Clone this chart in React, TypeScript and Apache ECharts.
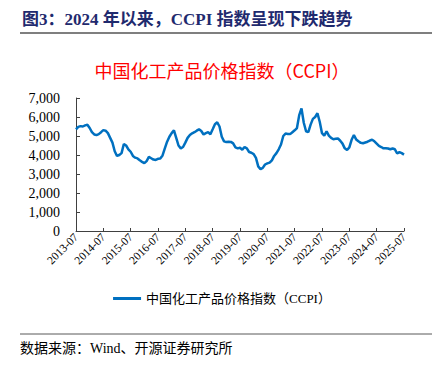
import React, { useEffect, useRef } from "react";
import * as echarts from "echarts";

const startYear = 2013;
const startMonth = 7;
const monthCount = 145;

const categories: string[] = [];
for (let i = 0; i < monthCount; i++) {
  const m = startMonth - 1 + i;
  const y = startYear + Math.floor(m / 12);
  const mm = (m % 12) + 1;
  categories.push(`${y}-${mm < 10 ? "0" + mm : mm}`);
}

const ccpiValues: number[] = [
  5350, 5480, 5520, 5500, 5560, 5590, 5420, 5200, 5080, 5050, 5100, 5200,
  5310, 5280, 5150, 4900, 4650, 4200, 3950, 4000, 4100, 4580, 4500, 4300,
  4170, 3950, 3860, 3820, 3720, 3640, 3570, 3680, 3900, 3830, 3760, 3740,
  3800, 3820, 3980, 4350, 4700, 4960, 5150, 5300, 4900, 4500, 4350, 4420,
  4650, 4900, 5050, 5140, 5200, 5280, 5350, 5260, 5080, 5150, 5200, 5090,
  5350, 5620, 5720, 5500, 4960, 4720, 4680, 4700, 4690, 4610, 4400, 4350,
  4380, 4280, 4420, 4350, 4160, 4120, 4050, 3850, 3400, 3250, 3320, 3500,
  3560, 3600, 3720, 3950, 4100, 4300, 4550, 5000, 5130, 5110, 5100, 5200,
  5300, 5420, 6100, 6450, 5700, 5250, 5200, 5600, 5900, 6000, 6200, 5750,
  5150, 5020, 5250, 5020, 4900, 4830, 4850, 4870, 4750, 4600, 4350, 4260,
  4400, 4800, 5050, 4820, 4720, 4640, 4620, 4660, 4700, 4760, 4800, 4720,
  4600, 4480, 4420, 4350, 4360, 4340, 4300, 4340, 4300, 4080, 4150, 4100,
  4020,
];

const seriesName = "中国化工产品价格指数（CCPI）";
const headerText = "图3：2024 年以来，CCPI 指数呈现下跌趋势";
const chartTitle = "中国化工产品价格指数（CCPI）";
const sourceText = "数据来源：Wind、开源证券研究所";

const serif = "'Times New Roman', 'Liberation Serif', 'Noto Sans CJK SC', serif";

export default function App() {
  const ref = useRef<HTMLDivElement>(null);
  useEffect(() => {
    if (!ref.current) return;
    const chart = echarts.init(ref.current, undefined, { renderer: "svg" });
    chart.setOption({
      animation: false,
      backgroundColor: "#ffffff",
      title: {
        text: chartTitle,
        left: "center",
        top: 56,
        textStyle: {
          color: "#ff0000",
          fontSize: 18,
          fontWeight: "normal",
          fontFamily: "'Noto Sans CJK SC', sans-serif",
        },
      },
      graphic: [
        {
          type: "text",
          left: 22,
          top: 11,
          style: {
            text: headerText,
            fill: "#1f2a6e",
            font: `bold 17px 'Liberation Serif', 'Noto Sans CJK SC', serif`,
          },
        },
        {
          type: "line",
          shape: { x1: 20, y1: 33, x2: 432, y2: 33 },
          style: { stroke: "#7f7f7f", lineWidth: 2 },
        },
        {
          type: "line",
          shape: { x1: 20, y1: 334, x2: 432, y2: 334 },
          style: { stroke: "#595959", lineWidth: 1 },
        },
        {
          type: "text",
          left: 20,
          top: 341,
          style: {
            text: sourceText,
            fill: "#000000",
            font: `14px 'Liberation Serif', 'Noto Sans CJK SC', serif`,
          },
        },
      ],
      legend: {
        bottom: 57,
        left: "center",
        data: [seriesName],
        icon: "rect",
        itemWidth: 28,
        itemHeight: 3,
        itemGap: 4,
        textStyle: { fontSize: 13, color: "#000", fontFamily: serif },
      },
      grid: { left: 76, right: 40, top: 98, bottom: 136, containLabel: false },
      xAxis: {
        type: "category",
        data: categories,
        boundaryGap: false,
        axisLine: { lineStyle: { color: "#404040", width: 1 } },
        axisTick: { interval: 11, inside: true, length: 3, lineStyle: { color: "#404040" } },
        axisLabel: {
          interval: 11,
          rotate: 45,
          fontSize: 11.5,
          color: "#000",
          fontFamily: serif,
          margin: 4,
        },
        splitLine: { show: false },
      },
      yAxis: {
        type: "value",
        min: 0,
        max: 7000,
        interval: 1000,
        axisLine: { show: true, lineStyle: { color: "#404040", width: 1 } },
        axisTick: { show: true, inside: true, length: 4, lineStyle: { color: "#404040" } },
        axisLabel: {
          fontSize: 14,
          color: "#000",
          fontFamily: serif,
          margin: 16,
          formatter: (v: number) => v.toLocaleString("en-US"),
        },
        splitLine: { show: false },
      },
      series: [
        {
          name: seriesName,
          type: "line",
          data: ccpiValues,
          symbol: "none",
          lineStyle: { color: "#0070c0", width: 2.5 },
          itemStyle: { color: "#0070c0" },
        },
      ],
    });
    return () => chart.dispose();
  }, []);
  return (
    <div
      ref={ref}
      style={{ position: "absolute", left: 0, top: 0, width: 444, height: 367 }}
    />
  );
}
